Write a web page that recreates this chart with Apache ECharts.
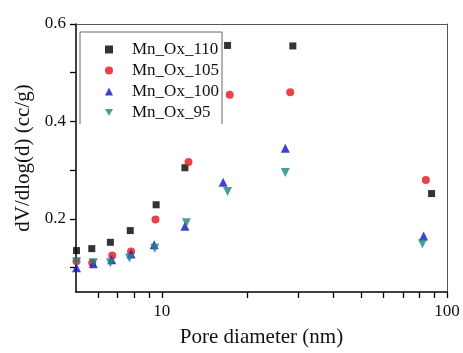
<!DOCTYPE html>
<html>
<head>
<meta charset="utf-8">
<script src="https://cdn.jsdelivr.net/npm/echarts@6/dist/echarts.min.js"></script>
<style>
  html, body { margin: 0; padding: 0; background: #fff; }
  #chart { width: 463px; height: 353px; }
</style>
</head>
<body>
<div id="chart"></div>
<script>
// pore size distribution
const mnOx110 = [[5.02, 0.135], [5.68, 0.139], [6.6, 0.152], [7.75, 0.176], [9.55, 0.229], [12.05, 0.305], [17.0, 0.556], [28.8, 0.555], [88.3, 0.252]];
const mnOx105 = [[5.02, 0.113], [5.7, 0.11], [6.7, 0.125], [7.8, 0.133], [9.5, 0.199], [12.4, 0.317], [17.3, 0.455], [28.2, 0.46], [84.3, 0.28]];
const mnOx100 = [[5.02, 0.1], [5.75, 0.108], [6.67, 0.116], [7.8, 0.128], [9.4, 0.147], [12.05, 0.185], [16.4, 0.275], [27.1, 0.345], [82.8, 0.165]];
const mnOx95 = [[5.02, 0.112], [5.75, 0.11], [6.6, 0.11], [7.7, 0.12], [9.45, 0.14], [12.2, 0.192], [17.0, 0.2565], [27.1, 0.295], [82.0, 0.149]];

const xLabels = [10, 100];
const xTicks = [6, 7, 8, 9, 10, 20, 30, 40, 50, 60, 70, 80, 90, 100];
const yLabels = [0.2, 0.4, 0.6];
const yTicks = [0.1, 0.2, 0.3, 0.4, 0.5, 0.6];

const serif = 'Liberation Serif';
const downTriangle = 'path://M0,0 L10,0 L5,8.66 Z';
const noSplit = { show: true, lineStyle: { color: 'rgba(0,0,0,0)' } };

const chart = echarts.init(document.getElementById('chart'));

chart.setOption({
  animation: false,
  grid: { left: 76, right: 16, top: 24, bottom: 58 },
  legend: {
    left: 100, top: 36, orient: 'vertical',
    itemWidth: 8, itemHeight: 8, itemGap: 4,
    textStyle: { fontFamily: serif, fontSize: 17, color: '#111', padding: [0, 0, 0, 14] },
    data: ['Mn_Ox_110', 'Mn_Ox_105', 'Mn_Ox_100', 'Mn_Ox_95']
  },
  graphic: [{
    type: 'polyline',
    shape: { points: [[80, 124], [80, 32], [222, 32], [222, 124]] },
    style: { stroke: '#666', fill: null, lineWidth: 1 }
  }],
  xAxis: [{
    type: 'log', logBase: 10, min: 5, max: 100,
    name: 'Pore diameter (nm)', nameLocation: 'middle', nameGap: 35,
    nameTextStyle: { fontFamily: serif, fontSize: 21, color: '#111' },
    splitLine: noSplit,
    axisLine: { show: true, lineStyle: { color: '#000', width: 1.5 } },
    axisTick: { show: true, length: 6, customValues: xTicks, lineStyle: { color: '#000', width: 1.3 } },
    axisLabel: { customValues: xLabels, margin: 11, fontFamily: serif, fontSize: 17, color: '#111' }
  }, {
    type: 'log', logBase: 10, min: 5, max: 100, position: 'top',
    splitLine: { show: false },
    axisLine: { show: true, lineStyle: { color: '#555', width: 1 } },
    axisTick: { show: false },
    axisLabel: { show: false }
  }],
  yAxis: [{
    type: 'value', min: 0.05, max: 0.6,
    name: 'dV/dlog(d) (cc/g)', nameLocation: 'middle', nameGap: 37,
    nameTextStyle: { fontFamily: serif, fontSize: 21, color: '#111' },
    splitLine: noSplit,
    axisLine: { show: true, lineStyle: { color: '#000', width: 1.5 } },
    axisTick: { show: true, length: 6, customValues: yTicks, lineStyle: { color: '#000', width: 1.3 } },
    axisLabel: { customValues: yLabels, margin: 10, fontFamily: serif, fontSize: 17, color: '#111',
      formatter: v => v.toFixed(1) }
  }, {
    type: 'value', min: 0.05, max: 0.6, position: 'right',
    splitLine: { show: false },
    axisLine: { show: true, lineStyle: { color: '#555', width: 1 } },
    axisTick: { show: false },
    axisLabel: { show: false }
  }],
  series: [
    { name: 'Mn_Ox_110', type: 'scatter', data: mnOx110, symbol: 'rect', symbolSize: 7,
      itemStyle: { color: '#000' } },
    { name: 'Mn_Ox_105', type: 'scatter', data: mnOx105, symbol: 'circle', symbolSize: 8,
      itemStyle: { color: '#e3131b' } },
    { name: 'Mn_Ox_100', type: 'scatter', data: mnOx100, symbol: 'triangle', symbolSize: 9,
      itemStyle: { color: '#1212c4' } },
    { name: 'Mn_Ox_95', type: 'scatter', data: mnOx95, symbol: downTriangle, symbolSize: 9,
      itemStyle: { color: '#1f8580' } }
  ]
});
</script>
</body>
</html>
